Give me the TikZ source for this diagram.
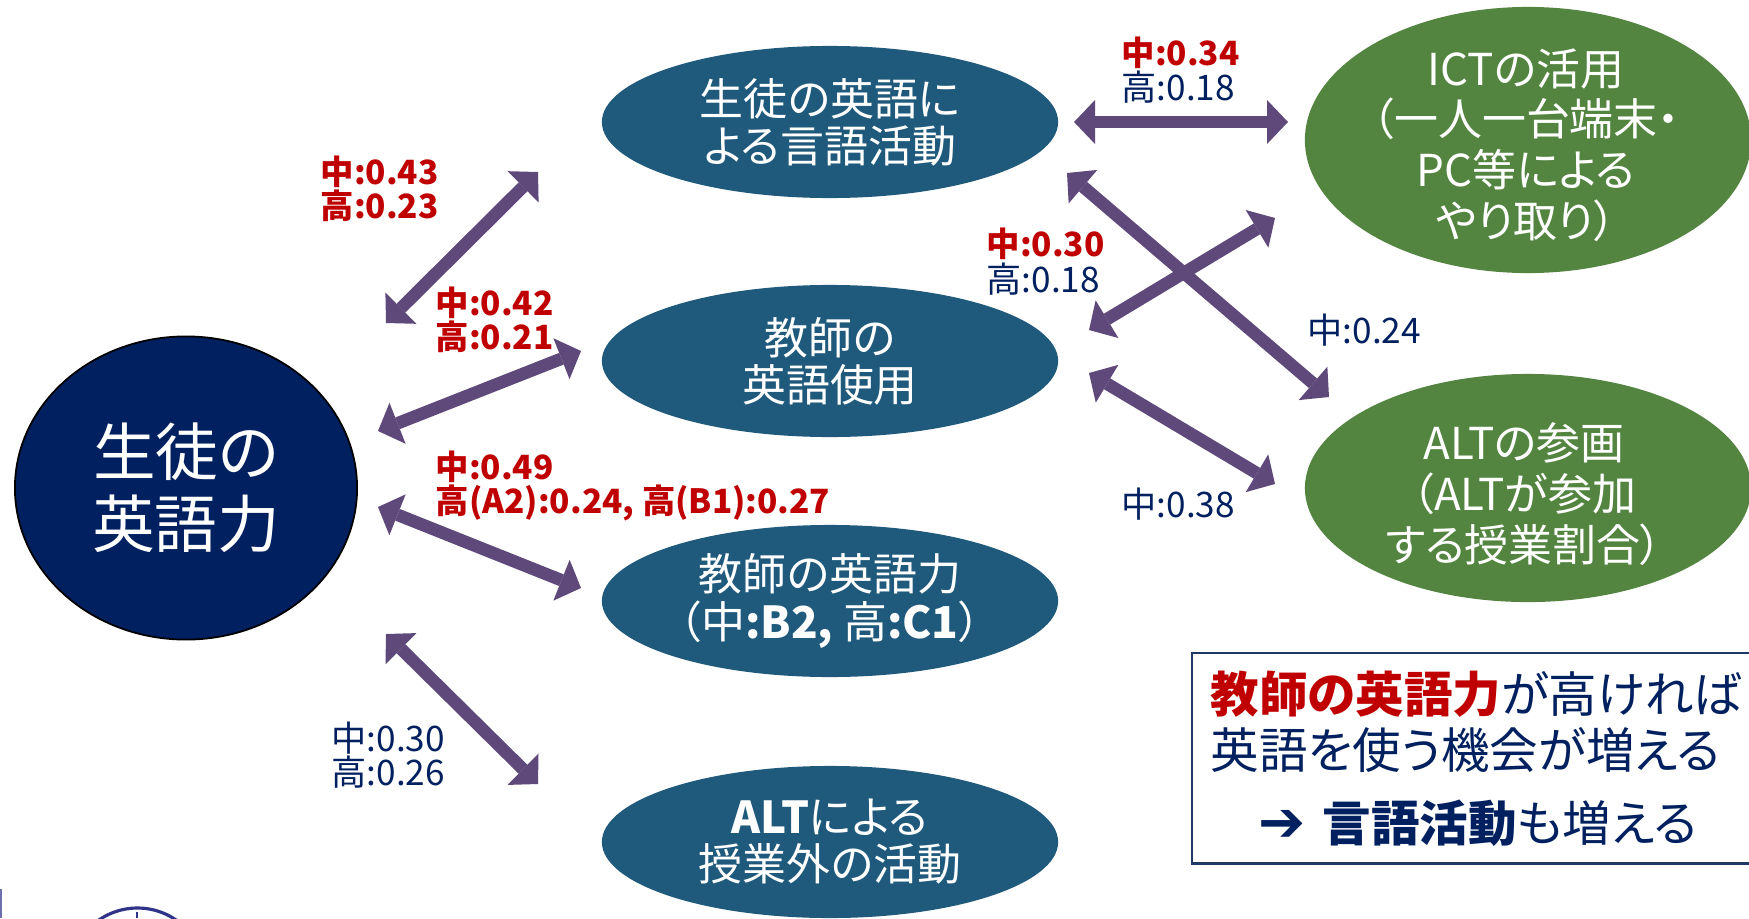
\documentclass[tikz,border=0pt]{standalone}
\usepackage{fontspec}
\setmainfont{Noto Sans CJK JP}[RawFeature=+palt]
\newfontfamily\symf{DejaVu Sans}
\usetikzlibrary{shapes.geometric,arrows.meta}
\definecolor{navy}{HTML}{002060}
\definecolor{boxblue}{HTML}{1F5A7C}
\definecolor{grn}{HTML}{538540}
\definecolor{arr}{HTML}{5F497A}
\definecolor{redt}{HTML}{C00000}
\definecolor{logo}{HTML}{30338A}
\definecolor{frame}{HTML}{1F3864}
\begin{document}
\begin{tikzpicture}[x=0.01cm,y=-0.01cm,
  bluee/.style={ellipse, fill=boxblue, inner sep=0pt, minimum width=4.56cm, minimum height=1.52cm},
  greene/.style={ellipse, fill=grn, inner sep=0pt, minimum width=4.46cm},
  etxt/.style={text=white, align=center, font=\fontsize{12.5}{13.4}\selectfont, inner sep=0pt},
  gtxt/.style={text=white, align=center, font=\fontsize{12.5}{14.4}\selectfont, inner sep=0pt},
  lab/.style={anchor=west, inner sep=0pt, text height=0.88em, text depth=0.12em},
  labr/.style={lab, text=redt, font=\fontsize{9.5}{10}\selectfont\bfseries},
  labn/.style={lab, text=navy, font=\fontsize{10}{10}\selectfont},
  btxt/.style={anchor=west, inner sep=0pt, text=navy, font=\fontsize{13.8}{14}\selectfont},
  dar/.style={draw=arr, line width=0.125cm,
    {Triangle[length=0.21cm,width=0.44cm,line width=0pt]}-{Triangle[length=0.21cm,width=0.44cm,line width=0pt]}},
]
\useasboundingbox (0,0) rectangle (1749,918);
\fill[white] (0,0) rectangle (1749,918);

\begin{scope}
\clip (0,0) rectangle (1749,918);

% central node
\node[ellipse, fill=navy, draw=black, line width=0.5pt, minimum width=3.42cm, minimum height=3.03cm, inner sep=0pt] (big) at (186,488) {};
\node[text=white, align=center, font=\fontsize{17.8}{20.6}\selectfont, inner sep=0pt] (bigt) at (big) {生徒の\\英語力};

% blue ellipses
\node[bluee] (e1) at (830,122) {};
\node[etxt] (e1t) at (e1) {生徒の英語に\\よる言語活動};
\node[bluee] (e2) at (830,361) {};
\node[etxt] (e2t) at (e2) {教師の\\英語使用};
\node[bluee] (e3) at (830,601) {};
\node[etxt] (e3t) at (e3) {教師の英語力\\（中\textbf{:B2,} 高\textbf{:C1}）};
\node[bluee] (e4) at (830,842) {};
\node[etxt] (e4t) at (e4) {\textbf{ALT}による\\授業外の活動};

% green ellipses
\node[greene, minimum height=2.66cm] (g1) at (1528,140) {};
\node[gtxt] (g1t) at (1526,145) {ICTの活用\\（一人一台端末・\\PC等による\\やり取り）};
\node[greene, minimum height=2.28cm] (g2) at (1528,488) {};
\node[gtxt] (g2t) at (1524,494) {ALTの参画\\（ALTが参加\\する授業割合）};

% arrows
\coordinate (a1a) at (386,323); \coordinate (a1b) at (538,172);
\coordinate (a2a) at (378,431); \coordinate (a2b) at (581,351);
\coordinate (a3a) at (378,507); \coordinate (a3b) at (581,588);
\coordinate (a4a) at (386,634); \coordinate (a4b) at (538,784);
\coordinate (a5a) at (1074,122); \coordinate (a5b) at (1288,122);
\coordinate (a6a) at (1089,330); \coordinate (a6b) at (1275,218);
\coordinate (a7a) at (1067,173); \coordinate (a7b) at (1329,397);
\coordinate (a8a) at (1089,373); \coordinate (a8b) at (1275,484);
\draw[dar] (a1a) -- (a1b);
\draw[dar] (a2a) -- (a2b);
\draw[dar] (a3a) -- (a3b);
\draw[dar] (a4a) -- (a4b);
\draw[dar] (a5a) -- (a5b);
\draw[dar] (a6a) -- (a6b);
\draw[dar] (a7a) -- (a7b);
\draw[dar] (a8a) -- (a8b);

% labels
\node[labr] (l1a) at (320,171) {中:0.43};
\node[labr] (l1b) at (320,205) {高:0.23};
\node[labr] (l2a) at (435,302) {中:0.42};
\node[labr] (l2b) at (435,336) {高:0.21};
\node[labr] (l3a) at (435,466) {中:0.49};
\node[labr] (l3b) at (435,500) {高(A2):0.24, 高(B1):0.27};
\node[labn] (l4a) at (331,738) {中:0.30};
\node[labn] (l4b) at (331,772) {高:0.26};
\node[labr] (l5a) at (1121,52) {中:0.34};
\node[labn] (l5b) at (1121,87) {高:0.18};
\node[labr] (l6a) at (986,243) {中:0.30};
\node[labn] (l6b) at (986,279) {高:0.18};
\node[labn] (l7) at (1307,330) {中:0.24};
\node[labn] (l8) at (1121,504) {中:0.38};

% summary box
\node[draw=frame, line width=0.7pt, inner sep=0pt, minimum width=5.8cm, minimum height=2.10cm, anchor=north west] (box) at (1191,652) {};
\node[btxt] (b1) at (1210,694) {\textcolor{redt}{\bfseries 教師の英語力}が高ければ};
\node[btxt] (b2) at (1210,750) {英語を使う機会が増える};
\node[btxt] (b3) at (1258,823) {{\symf\bfseries\fontsize{16}{16}\selectfont ➔}\hspace{0.35em}{\bfseries 言語活動}も増える};

% cut-off logo fragment
\draw[logo, line width=0.9pt] (137.5,976) circle (68);
\draw[logo, line width=0.8pt] (137,912) -- (137,918);
\draw[color=logo!70, line width=0.6pt] (1,889) -- (1,918);
\end{scope}
\end{tikzpicture}
\end{document}
